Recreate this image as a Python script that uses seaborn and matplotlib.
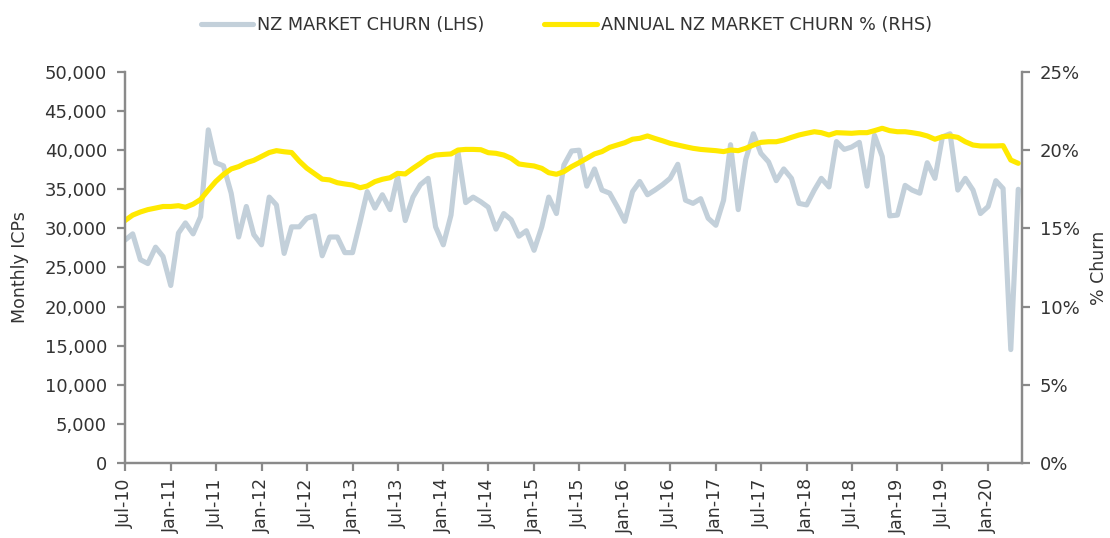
import matplotlib
matplotlib.use("Agg")
import matplotlib.pyplot as plt
import matplotlib.dates as mdates
from matplotlib.ticker import FuncFormatter, MultipleLocator
import seaborn as sns
import pandas as pd

# monthly ICP switches, Jul-10 .. May-20
monthly_icps = [
    28500, 29300, 26000, 25500, 27600, 26400, 22700, 29400, 30700, 29300,
    31500, 42600, 38400, 38000, 34500, 28900, 32800, 29200, 27900, 34000,
    33000, 26800, 30200, 30200, 31300, 31600, 26500, 28900, 28900, 26900,
    26900, 30900, 34700, 32600, 34300, 32400, 36600, 31000, 34000, 35600,
    36400, 30200, 27900, 31700, 39800, 33300, 34000, 33400, 32700, 29900,
    31900, 31100, 29000, 29700, 27200, 30200, 34000, 31900, 38100, 39900,
    40000, 35400, 37600, 34900, 34500, 32800, 30900, 34700, 36000, 34300,
    34900, 35600, 36400, 38200, 33600, 33200, 33800, 31300, 30400, 33600,
    40700, 32400, 38800, 42100, 39600, 38500, 36100, 37600, 36400, 33200,
    33000, 34900, 36400, 35300, 41100, 40100, 40400, 41000, 35400, 41900,
    39200, 31600, 31700, 35500, 34900, 34500, 38400, 36400, 41700, 42100,
    34900, 36400, 34900, 31900, 32800, 36100, 35100, 14500, 35000,
]

# rolling annual churn, %
annual_churn = [
    15.50, 15.85, 16.05, 16.20, 16.30, 16.40, 16.40, 16.45, 16.35, 16.55,
    16.85, 17.45, 18.00, 18.45, 18.80, 18.95, 19.20, 19.35, 19.60, 19.85,
    19.97, 19.90, 19.85, 19.30, 18.85, 18.50, 18.15, 18.10, 17.92, 17.84,
    17.77, 17.60, 17.71, 17.99, 18.14, 18.24, 18.52, 18.48, 18.84, 19.16,
    19.52, 19.69, 19.73, 19.76, 20.01, 20.05, 20.05, 20.03, 19.84, 19.80,
    19.69, 19.48, 19.12, 19.05, 18.99, 18.84, 18.56, 18.46, 18.63, 18.95,
    19.20, 19.48, 19.76, 19.91, 20.18, 20.33, 20.48, 20.70, 20.76, 20.91,
    20.75, 20.60, 20.44, 20.33, 20.22, 20.12, 20.05, 20.01, 19.97, 19.91,
    20.01, 19.97, 20.12, 20.33, 20.50, 20.54, 20.54, 20.65, 20.82, 20.97,
    21.08, 21.18, 21.12, 20.97, 21.12, 21.10, 21.08, 21.12, 21.12, 21.25,
    21.40, 21.25, 21.18, 21.18, 21.12, 21.04, 20.91, 20.70, 20.86, 20.91,
    20.82, 20.54, 20.33, 20.27, 20.27, 20.27, 20.29, 19.37, 19.16,
]

months = pd.date_range("2010-07-01", periods=len(monthly_icps), freq="MS")

GREY = "#C3D0DA"
YELLOW = "#FFE900"
AXIS = "#8A8A8A"
TEXT = "#333333"

sns.set_style("ticks")
plt.rcParams["font.family"] = ["DejaVu Sans"]

fig, ax = plt.subplots(figsize=(11.1, 5.38), dpi=100)
fig.subplots_adjust(left=0.1126, right=0.9207, top=0.8662, bottom=0.1394)

sns.lineplot(x=months, y=monthly_icps, ax=ax, color=GREY, linewidth=3.7,
             label="NZ MARKET CHURN (LHS)", legend=False)
ax2 = ax.twinx()
sns.lineplot(x=months, y=annual_churn, ax=ax2, color=YELLOW, linewidth=3.7,
             label="ANNUAL NZ MARKET CHURN % (RHS)", legend=False)

ax.set_ylim(0, 50000)
ax2.set_ylim(0, 25)
ax.set_xlim(months[0], months[-1] + pd.Timedelta(days=15))
ax.yaxis.set_major_locator(MultipleLocator(5000))
ax2.yaxis.set_major_locator(MultipleLocator(5))
ax.yaxis.set_major_formatter(FuncFormatter(lambda v, p: f"{v:,.0f}"))
ax2.yaxis.set_major_formatter(FuncFormatter(lambda v, p: f"{v:.0f}%"))
ax.xaxis.set_major_locator(mdates.MonthLocator(bymonth=[1, 7]))
ax.xaxis.set_major_formatter(mdates.DateFormatter("%b-%y"))

for a in (ax, ax2):
    a.set_xlabel("")
    for s in a.spines.values():
        s.set_color(AXIS)
        s.set_linewidth(1.6)
    a.spines["top"].set_visible(False)
    a.tick_params(color=AXIS, labelcolor=TEXT, width=1.6, length=6,
                  labelsize=13, pad=7)
ax.tick_params(axis="x", rotation=90, labelsize=12.5, pad=5)

ax.set_ylabel("Monthly ICPs", fontsize=12.5, color=TEXT, labelpad=11)
ax2.set_ylabel("% Churn", fontsize=12.5, color=TEXT, labelpad=7)

h1, l1 = ax.get_legend_handles_labels()
h2, l2 = ax2.get_legend_handles_labels()
fig.legend(h1 + h2, l1 + l2, loc="upper center", bbox_to_anchor=(0.51, 1.0),
           ncol=2, frameon=False, fontsize=12.7, handlelength=3.0,
           handletextpad=0.2, columnspacing=3.4, labelcolor=TEXT)

fig.savefig("out.png", dpi=100)
